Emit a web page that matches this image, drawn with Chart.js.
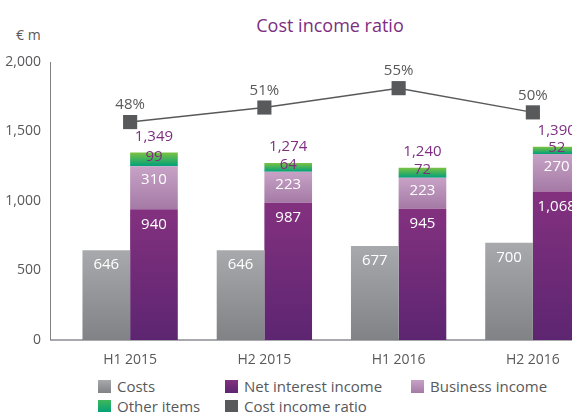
<!DOCTYPE html>
<html>
<head>
<meta charset="utf-8">
<script src="https://cdn.jsdelivr.net/npm/chart.js@4.4.1/dist/chart.umd.min.js"></script>
<style>
    html, body { margin: 0; padding: 0; overflow: hidden; background: #fff; }
    #wrap { position: relative; width: 572px; height: 412px; overflow: hidden; font-family: "Open Sans", sans-serif; }
    #titulo { position: absolute; left: 0; width: 660px; top: 13px; text-align: center; font-size: 18px; color: #7d2e80; }
    #unidad { position: absolute; left: 16px; top: 25px; font-size: 14px; color: #58595b; }
    #grafica { position: absolute; left: 0; top: 0; }
    #leyenda { position: absolute; left: 0; top: 376px; width: 572px; height: 36px; }
    .item { position: absolute; font-size: 15px; color: #58595b; line-height: 20px; white-space: nowrap; }
    .caja { display: inline-block; width: 13px; height: 13px; vertical-align: -1px; margin-right: 6px; }
</style>
</head>
<body>
<div id="wrap">
    <div id="titulo">Cost income ratio</div>
    <div id="unidad">€ m</div>
    <canvas id="grafica" width="610" height="372"></canvas>
    <div id="leyenda"></div>
</div>
<script>
// Datos
const categorias = ['H1 2015', 'H2 2015', 'H1 2016', 'H2 2016'];
const costos = [646, 646, 677, 700];
const interesNeto = [940, 987, 945, 1068];
const ingresoNegocio = [310, 223, 223, 270];
const otrosItems = [99, 64, 72, 52];
const totales = [1349, 1274, 1240, 1390];
const ratioCostoIngreso = [48, 51, 55, 50];
const ticksY = [0, 500, 1000, 1500, 2000];

const etiquetasLeyenda = ['Costs', 'Net interest income', 'Business income', 'Other items', 'Cost income ratio'];

const morado = '#7d2e80';
const grisOscuro = '#58595b';

function fmt(v){
    return v.toLocaleString('en-US');
}

// Degradado vertical para cada barra, desde su valor inicial hasta su valor final
function degradado(inicio, fin, arriba, abajo){
    return function(context){
        const chart = context.chart;
        const escala = chart.scales.y;
        if(!escala || !chart.chartArea || context.dataIndex === undefined){
            return abajo;
        }
        const i = context.dataIndex;
        const y0 = escala.getPixelForValue(inicio[i]);
        const y1 = escala.getPixelForValue(fin[i]);
        if(!isFinite(y0) || !isFinite(y1) || y0 === y1){
            return abajo;
        }
        const g = chart.ctx.createLinearGradient(0, y1, 0, y0);
        g.addColorStop(0, arriba);
        g.addColorStop(1, abajo);
        return g;
    };
}

const ceros = costos.map(() => 0);
const finInteres = interesNeto.slice();
const finNegocio = interesNeto.map((v, i) => v + ingresoNegocio[i]);
const finOtros = finNegocio.map((v, i) => v + otrosItems[i]);

// Ejes dibujados a mano (el eje Y queda separado de las barras)
const ejesPlugin = {
    id: 'ejes',
    beforeDatasetsDraw(chart){
        const {ctx, chartArea} = chart;
        const x0 = chartArea.left - 13;
        ctx.save();
        ctx.strokeStyle = '#a7a9ac';
        ctx.lineWidth = 2;
        ctx.beginPath();
        ctx.moveTo(x0, chartArea.bottom);
        ctx.lineTo(chartArea.right, chartArea.bottom);
        ctx.stroke();
        ctx.strokeStyle = '#808285';
        ctx.lineWidth = 1;
        ctx.beginPath();
        ctx.moveTo(x0 + 0.5, chartArea.top);
        ctx.lineTo(x0 + 0.5, chartArea.bottom);
        ctx.stroke();
        ctx.restore();
    }
};

// Etiquetas de valores
const etiquetasPlugin = {
    id: 'etiquetas',
    afterDatasetsDraw(chart){
        const ctx = chart.ctx;
        ctx.save();
        ctx.textAlign = 'center';
        ctx.textBaseline = 'middle';
        ctx.font = '15px "Open Sans", sans-serif';

        const texto = (t, x, y, color) => {
            ctx.fillStyle = color;
            ctx.fillText(t, x, y);
        };

        chart.getDatasetMeta(0).data.forEach((el, i) => {
            texto(fmt(costos[i]), el.x, el.y + 15, '#ffffff');
        });
        chart.getDatasetMeta(1).data.forEach((el, i) => {
            texto(fmt(interesNeto[i]), el.x, el.y + 15, '#ffffff');
        });
        chart.getDatasetMeta(2).data.forEach((el, i) => {
            texto(fmt(ingresoNegocio[i]), el.x, el.y + 13, '#ffffff');
        });
        chart.getDatasetMeta(3).data.forEach((el, i) => {
            texto(fmt(otrosItems[i]), el.x, (el.y + el.base) / 2 - 3, morado);
            texto(fmt(totales[i]), el.x, el.y - 16, morado);
        });
        chart.getDatasetMeta(4).data.forEach((el, i) => {
            texto(ratioCostoIngreso[i] + '%', el.x, el.y - 17, grisOscuro);
        });
        ctx.restore();
    }
};

const canvas = document.getElementById('grafica');

window.miGrafica = new Chart(canvas, {
    type: 'bar',
    data: {
        labels: categorias,
        datasets: [
            {
                label: 'Costs',
                data: costos,
                stack: 'costos',
                backgroundColor: degradado(ceros, costos, '#a7a9ac', '#808285'),
                order: 1
            },
            {
                label: 'Net interest income',
                data: interesNeto,
                stack: 'ingresos',
                backgroundColor: degradado(ceros, finInteres, '#83317f', '#5d2571'),
                order: 1
            },
            {
                label: 'Business income',
                data: ingresoNegocio,
                stack: 'ingresos',
                backgroundColor: degradado(finInteres, finNegocio, '#c7a2c6', '#a47aa5'),
                order: 1
            },
            {
                label: 'Other items',
                data: otrosItems,
                stack: 'ingresos',
                backgroundColor: degradado(finNegocio, finOtros, '#7cc242', '#00a07a'),
                order: 1
            },
            {
                label: 'Cost income ratio',
                type: 'line',
                data: ratioCostoIngreso,
                yAxisID: 'y1',
                borderColor: grisOscuro,
                borderWidth: 1.5,
                backgroundColor: grisOscuro,
                pointStyle: 'rect',
                pointRadius: 10,
                pointBorderWidth: 0,
                tension: 0,
                fill: false,
                order: 0
            }
        ]
    },
    options: {
        responsive: false,
        animation: false,
        layout: {
            padding: { top: 62, right: 1, bottom: 0, left: 0 }
        },
        datasets: {
            bar: {
                categoryPercentage: 0.71,
                barPercentage: 1
            }
        },
        plugins: {
            legend: { display: false },
            tooltip: { enabled: false },
            title: { display: false }
        },
        scales: {
            // Eje X
            x: {
                stacked: true,
                offset: true,
                grid: { display: false },
                border: { display: false },
                ticks: {
                    color: grisOscuro,
                    padding: 4,
                    font: { family: 'Open Sans', size: 14 }
                },
                afterFit(scale){ scale.height = 32; }
            },
            // Eje Y
            y: {
                stacked: true,
                min: 0,
                max: 2000,
                afterBuildTicks(scale){
                    scale.ticks = ticksY.map(v => ({ value: v }));
                },
                grid: { display: false, drawTicks: false },
                border: { display: false },
                ticks: {
                    color: grisOscuro,
                    padding: 22,
                    font: { family: 'Open Sans', size: 14 },
                    callback: v => fmt(v)
                },
                afterFit(scale){ scale.width = 63; }
            },
            // Eje oculto para el ratio
            y1: {
                display: false,
                min: 3,
                max: 60.4
            }
        }
    },
    plugins: [ejesPlugin, etiquetasPlugin]
});

// Leyenda en columnas
const leyenda = document.getElementById('leyenda');
const colorCaja = [
    'linear-gradient(#a7a9ac, #808285)',
    'linear-gradient(#83317f, #5d2571)',
    'linear-gradient(#c7a2c6, #a47aa5)',
    'linear-gradient(#3fb65a, #00a07a)',
    grisOscuro
];
const columnas = [98, 225, 411];
etiquetasLeyenda.forEach((t, i) => {
    const d = document.createElement('div');
    d.className = 'item';
    d.style.left = columnas[i % 3] + 'px';
    d.style.top = (Math.floor(i / 3) * 20) + 'px';
    d.innerHTML = '<span class="caja" style="background:' + colorCaja[i] + '"></span>' + t;
    leyenda.appendChild(d);
});
</script>
</body>
</html>
